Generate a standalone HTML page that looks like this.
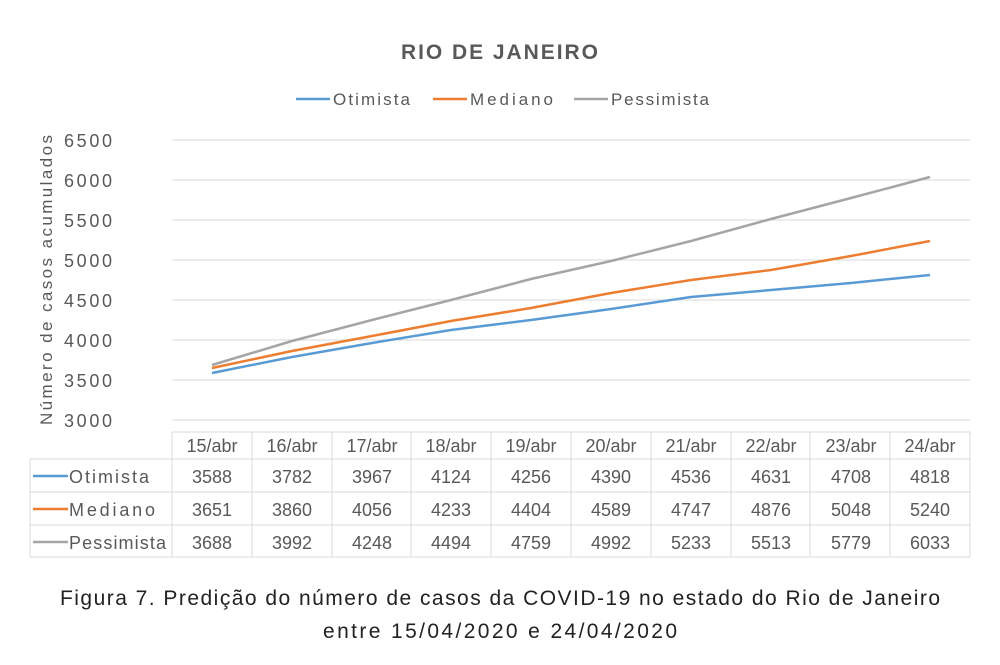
<!DOCTYPE html>
<html><head><meta charset="utf-8"><style>
body{margin:0;background:#fff;}
text{font-family:"Liberation Sans",sans-serif;}
</style></head><body>
<svg width="1000" height="660" xmlns="http://www.w3.org/2000/svg">
<rect width="1000" height="660" fill="#fff"/>
<text x="401" y="59" textLength="197" font-size="21" font-weight="bold" fill="#595959">RIO DE JANEIRO</text>
<g font-size="17" fill="#595959">
<line x1="296" y1="99" x2="330" y2="99" stroke="#5b9bd5" stroke-width="2.5"/><text x="333" y="105" textLength="77">Otimista</text>
<line x1="433" y1="99" x2="467" y2="99" stroke="#ed7d31" stroke-width="2.5"/><text x="470" y="105" textLength="83">Mediano</text>
<line x1="574" y1="99" x2="608" y2="99" stroke="#a5a5a5" stroke-width="2.5"/><text x="611" y="105" textLength="98">Pessimista</text>
</g>
<g stroke="#d9d9d9" stroke-width="1">
<line x1="172" y1="140" x2="970" y2="140"/><line x1="172" y1="180" x2="970" y2="180"/>
<line x1="172" y1="220" x2="970" y2="220"/><line x1="172" y1="260" x2="970" y2="260"/>
<line x1="172" y1="300" x2="970" y2="300"/><line x1="172" y1="340" x2="970" y2="340"/>
<line x1="172" y1="380" x2="970" y2="380"/><line x1="172" y1="420" x2="970" y2="420"/>
</g>
<g font-size="18" fill="#595959">
<text x="64" y="147" textLength="48">6500</text><text x="64" y="187" textLength="48">6000</text><text x="64" y="227" textLength="48">5500</text>
<text x="64" y="267" textLength="48">5000</text><text x="64" y="307" textLength="48">4500</text><text x="64" y="347" textLength="48">4000</text>
<text x="64" y="387" textLength="48">3500</text><text x="64" y="427" textLength="48">3000</text>
</g>
<text transform="translate(52,425) rotate(-90)" textLength="290" font-size="17" fill="#595959">Número de casos acumulados</text>
<polyline fill="none" stroke="#a5a5a5" stroke-width="2.5" points="212,365 292,341 372,320 451,300 531,279 611,261 691,241 771,219 851,198 930,177"/>
<polyline fill="none" stroke="#ed7d31" stroke-width="2.5" points="212,368 292,351 372,336 451,321 531,308 611,293 691,280 771,270 851,256 930,241"/>
<polyline fill="none" stroke="#5b9bd5" stroke-width="2.5" points="212,373 292,357 372,343 451,330 531,320 611,309 691,297 771,290 851,283 930,275"/>
<g stroke="#d9d9d9" stroke-width="1" fill="none">
<line x1="172" y1="432" x2="970" y2="432"/>
<line x1="30" y1="459" x2="970" y2="459"/>
<line x1="30" y1="492" x2="970" y2="492"/>
<line x1="30" y1="525" x2="970" y2="525"/>
<line x1="30" y1="557" x2="970" y2="557"/>
<line x1="30" y1="459" x2="30" y2="557"/>
<line x1="172" y1="432" x2="172" y2="557"/><line x1="252" y1="432" x2="252" y2="557"/>
<line x1="332" y1="432" x2="332" y2="557"/><line x1="411" y1="432" x2="411" y2="557"/>
<line x1="491" y1="432" x2="491" y2="557"/><line x1="571" y1="432" x2="571" y2="557"/>
<line x1="651" y1="432" x2="651" y2="557"/><line x1="731" y1="432" x2="731" y2="557"/>
<line x1="810" y1="432" x2="810" y2="557"/><line x1="890" y1="432" x2="890" y2="557"/>
<line x1="970" y1="432" x2="970" y2="557"/>
</g>
<g font-size="18" fill="#595959" text-anchor="middle">
<text x="212" y="452">15/abr</text><text x="292" y="452">16/abr</text><text x="372" y="452">17/abr</text><text x="451" y="452">18/abr</text><text x="531" y="452">19/abr</text><text x="611" y="452">20/abr</text><text x="691" y="452">21/abr</text><text x="771" y="452">22/abr</text><text x="851" y="452">23/abr</text><text x="930" y="452">24/abr</text>
<text x="212" y="483">3588</text><text x="292" y="483">3782</text><text x="372" y="483">3967</text><text x="451" y="483">4124</text><text x="531" y="483">4256</text><text x="611" y="483">4390</text><text x="691" y="483">4536</text><text x="771" y="483">4631</text><text x="851" y="483">4708</text><text x="930" y="483">4818</text>
<text x="212" y="516">3651</text><text x="292" y="516">3860</text><text x="372" y="516">4056</text><text x="451" y="516">4233</text><text x="531" y="516">4404</text><text x="611" y="516">4589</text><text x="691" y="516">4747</text><text x="771" y="516">4876</text><text x="851" y="516">5048</text><text x="930" y="516">5240</text>
<text x="212" y="549">3688</text><text x="292" y="549">3992</text><text x="372" y="549">4248</text><text x="451" y="549">4494</text><text x="531" y="549">4759</text><text x="611" y="549">4992</text><text x="691" y="549">5233</text><text x="771" y="549">5513</text><text x="851" y="549">5779</text><text x="930" y="549">6033</text>
</g>
<g font-size="18" fill="#595959">
<line x1="33" y1="476" x2="68" y2="476" stroke="#5b9bd5" stroke-width="2.5"/><text x="69" y="483" textLength="80">Otimista</text>
<line x1="33" y1="509" x2="68" y2="509" stroke="#ed7d31" stroke-width="2.5"/><text x="69" y="516" textLength="86">Mediano</text>
<line x1="33" y1="542" x2="68" y2="542" stroke="#a5a5a5" stroke-width="2.5"/><text x="69" y="549" textLength="97">Pessimista</text>
</g>
<g font-size="21" fill="#222">
<text x="60" y="605" textLength="880">Figura 7. Predição do número de casos da COVID-19 no estado do Rio de Janeiro</text>
<text x="323" y="638" textLength="354">entre 15/04/2020 e 24/04/2020</text>
</g>
</svg>
</body></html>
